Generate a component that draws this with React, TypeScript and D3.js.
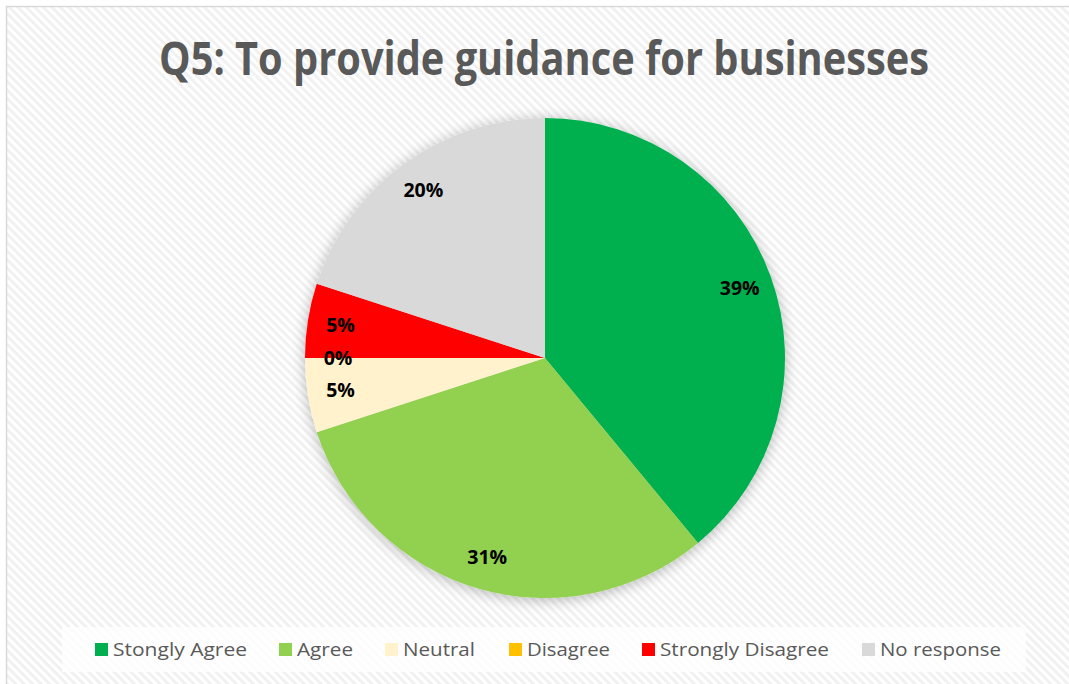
import React from "react";
import * as d3 from "d3";

const categories = ["Stongly Agree", "Agree", "Neutral", "Disagree", "Strongly Disagree", "No response"];
const values = [39, 31, 5, 0, 5, 20];
const colors = ["#00B050", "#92D050", "#FFF2CC", "#FFC000", "#FF0000", "#D9D9D9"];
const title = "Q5: To provide guidance for businesses";

// layout
const W = 1069, H = 684;
const cx = 545, cy = 358, R = 240, labelR = 207;
const legendX = [95, 279, 385, 509, 642, 862];
const legendW = [134, 56, 72, 83, 169, 121];

export default function App() {
  const total = d3.sum(values);
  const pie = d3.pie<number>().sort(null).value((d) => d);
  const arcs = pie(values);
  const arcGen = d3.arc<d3.PieArcDatum<number>>().innerRadius(0).outerRadius(R);
  const labelArc = d3.arc<d3.PieArcDatum<number>>().innerRadius(labelR).outerRadius(labelR);
  const fmt = d3.format(".0%");

  return (
    <svg width={W} height={H} style={{ position: "absolute", left: 0, top: 0 }}>
      <defs>
        <pattern id="stripes" width="6" height="6" patternUnits="userSpaceOnUse" patternTransform="rotate(-45)">
          <rect width="6" height="6" fill="#FFFFFF" />
          <rect width="3" height="6" fill="#F1F1F1" />
        </pattern>
        <filter id="shadow" x="-20%" y="-20%" width="140%" height="140%">
          <feGaussianBlur in="SourceAlpha" stdDeviation="7" />
          <feOffset dx="0" dy="2" result="b" />
          <feComponentTransfer>
            <feFuncA type="linear" slope="0.28" />
          </feComponentTransfer>
          <feMerge>
            <feMergeNode />
            <feMergeNode in="SourceGraphic" />
          </feMerge>
        </filter>
      </defs>
      <rect x={0} y={0} width={W} height={H} fill="#FFFFFF" />
      <rect x={6.5} y={6.5} width={W + 10} height={H + 10} fill="url(#stripes)" stroke="#D9D9D9" strokeWidth={1.5} />
      <text
        x={544}
        y={75}
        textAnchor="middle"
        fontFamily="'Liberation Sans Narrow', 'Open Sans', sans-serif"
        fontWeight="bold"
        fontSize={47}
        fill="#595959"
        textLength={770}
        lengthAdjust="spacingAndGlyphs"
      >
        {title}
      </text>
      <g transform={`translate(${cx},${cy})`}>
        <g filter="url(#shadow)">
          {arcs.map((a, i) => (
            <path key={i} d={arcGen(a) || ""} fill={colors[i]} />
          ))}
        </g>
        {arcs.map((a, i) => {
          const [x, y] = labelArc.centroid(a);
          return (
            <text
              key={i}
              x={x}
              y={y}
              dy="0.35em"
              textAnchor="middle"
              fontFamily="'Open Sans', sans-serif"
              fontWeight="bold"
              fontSize={19.5}
              fill="#000000"
            >
              {fmt(values[i] / total)}
            </text>
          );
        })}
      </g>
      <rect x={62} y={627} width={964} height={45} fill="#FFFFFF" fillOpacity={0.75} />
      {categories.map((c, i) => (
        <g key={c}>
          <rect x={legendX[i]} y={643} width={13} height={13} fill={colors[i]} />
          <text
            x={legendX[i] + 18}
            y={656}
            fontFamily="'Open Sans', sans-serif"
            fontSize={19}
            fill="#595959"
            textLength={legendW[i]}
            lengthAdjust="spacingAndGlyphs"
          >
            {c}
          </text>
        </g>
      ))}
    </svg>
  );
}
